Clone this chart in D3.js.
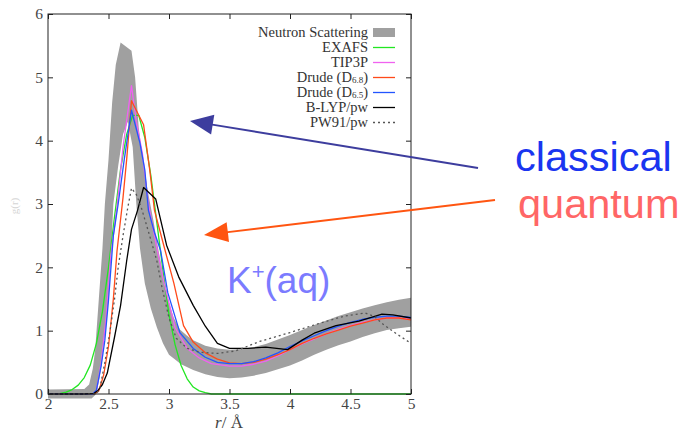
<!DOCTYPE html>
<html>
<head>
<meta charset="utf-8">
<script src="https://cdn.jsdelivr.net/npm/d3@7"></script>
<style>
  body { margin: 0; background: #fff; }
  svg { display: block; }
</style>
</head>
<body>
<svg id="chart" width="685" height="431"></svg>
<script>
// ---- data ----
const xTicks = [2, 2.5, 3, 3.5, 4, 4.5, 5];
const yTicks = [0, 1, 2, 3, 4, 5, 6];

// neutron scattering band (upper / lower edge)
const neutronUpper = [[2.0,0.07],[2.3,0.08],[2.34,0.15],[2.37,0.4],[2.39,0.7],[2.42,1.5],[2.45,2.3],[2.47,3.0],[2.5,3.7],[2.53,4.6],[2.56,5.2],[2.6,5.55],[2.69,5.42],[2.72,5.0],[2.75,4.2],[2.79,3.6],[2.83,3.15],[2.87,2.75],[2.91,2.3],[2.95,1.9],[2.99,1.5],[3.04,1.2],[3.09,1.02],[3.15,0.92],[3.2,0.85],[3.3,0.76],[3.4,0.72],[3.5,0.70],[3.6,0.71],[3.7,0.74],[3.8,0.79],[3.9,0.86],[4.0,0.93],[4.1,1.01],[4.2,1.09],[4.3,1.16],[4.4,1.23],[4.5,1.29],[4.6,1.35],[4.7,1.40],[4.8,1.45],[4.9,1.49],[5.0,1.52]];
const neutronLower = [[2.0,-0.07],[2.36,-0.07],[2.4,0.0],[2.43,0.3],[2.45,0.69],[2.48,1.1],[2.5,1.48],[2.52,2.2],[2.54,3.0],[2.58,3.6],[2.62,4.1],[2.66,4.3],[2.7,3.9],[2.73,3.0],[2.76,2.3],[2.8,1.75],[2.85,1.35],[2.9,1.05],[2.95,0.8],[3.0,0.62],[3.1,0.47],[3.2,0.38],[3.3,0.31],[3.4,0.27],[3.5,0.25],[3.6,0.26],[3.7,0.29],[3.8,0.33],[3.9,0.39],[4.0,0.45],[4.1,0.53],[4.2,0.62],[4.3,0.70],[4.4,0.77],[4.5,0.83],[4.6,0.90],[4.7,0.96],[4.8,1.01],[4.9,1.04],[5.0,1.06]];

const exafs = [[2.0,0],[2.1,0.005],[2.15,0.03],[2.2,0.07],[2.25,0.14],[2.3,0.26],[2.35,0.46],[2.4,0.8],[2.45,1.3],[2.5,2.0],[2.55,2.8],[2.6,3.55],[2.65,4.1],[2.7,4.4],[2.75,4.4],[2.8,4.05],[2.85,3.45],[2.9,2.7],[2.95,1.95],[3.0,1.25],[3.05,0.78],[3.1,0.45],[3.15,0.24],[3.2,0.11],[3.25,0.05],[3.3,0.02],[3.35,0],[5.0,0]];

const tip3p = [[2.0,0],[2.37,0],[2.4,0.05],[2.44,0.5],[2.48,1.2],[2.52,2.2],[2.57,2.95],[2.62,3.9],[2.69,4.87],[2.73,4.3],[2.78,3.8],[2.83,3.0],[2.9,2.3],[2.96,1.75],[3.05,1.05],[3.15,0.72],[3.25,0.57],[3.35,0.48],[3.5,0.44],[3.6,0.44],[3.7,0.47],[3.8,0.52],[3.9,0.6],[4.0,0.7],[4.1,0.79],[4.2,0.87],[4.3,0.95],[4.4,1.02],[4.5,1.08],[4.6,1.13],[4.7,1.17],[4.8,1.2],[4.9,1.2],[5.0,1.18]];

const drude68 = [[2.0,0],[2.38,0],[2.42,0.05],[2.46,0.3],[2.5,0.75],[2.54,1.5],[2.57,2.25],[2.62,3.1],[2.65,3.7],[2.69,4.63],[2.79,4.25],[2.84,3.55],[2.88,2.9],[2.97,2.25],[3.04,1.75],[3.12,1.08],[3.2,0.82],[3.3,0.65],[3.4,0.55],[3.5,0.49],[3.6,0.48],[3.7,0.5],[3.8,0.55],[3.9,0.62],[4.0,0.7],[4.1,0.8],[4.2,0.88],[4.3,0.95],[4.4,1.01],[4.5,1.07],[4.6,1.12],[4.7,1.17],[4.8,1.2],[4.9,1.2],[5.0,1.17]];

const drude65 = [[2.0,0],[2.37,0],[2.4,0.06],[2.44,0.45],[2.47,0.85],[2.5,1.48],[2.54,2.5],[2.58,3.0],[2.63,3.7],[2.69,4.48],[2.76,3.96],[2.8,3.54],[2.83,2.9],[2.88,2.55],[2.93,2.27],[2.99,1.6],[3.09,0.97],[3.2,0.72],[3.3,0.58],[3.4,0.5],[3.5,0.48],[3.6,0.48],[3.7,0.51],[3.8,0.57],[3.9,0.65],[4.0,0.75],[4.1,0.84],[4.2,0.92],[4.3,1.0],[4.4,1.07],[4.5,1.13],[4.6,1.18],[4.7,1.21],[4.8,1.23],[4.9,1.23],[5.0,1.21]];

const blyp = [[2.0,0],[2.3,0],[2.38,0.01],[2.41,0.05],[2.45,0.15],[2.49,0.33],[2.55,0.9],[2.6,1.4],[2.65,2.1],[2.69,2.6],[2.74,2.9],[2.79,3.26],[2.89,3.08],[2.98,2.35],[3.08,1.85],[3.2,1.4],[3.3,1.07],[3.4,0.8],[3.5,0.72],[3.65,0.72],[3.8,0.74],[3.98,0.7],[4.1,0.85],[4.2,0.96],[4.38,1.08],[4.57,1.15],[4.76,1.26],[4.85,1.25],[5.0,1.2]];

const pw91 = [[2.0,0],[2.4,0],[2.43,0.1],[2.47,0.5],[2.51,0.96],[2.55,1.5],[2.58,2.0],[2.62,2.5],[2.66,2.95],[2.69,3.25],[2.73,3.15],[2.77,2.95],[2.84,2.5],[2.9,2.1],[2.94,1.7],[3.0,1.2],[3.06,0.88],[3.15,0.72],[3.25,0.66],[3.4,0.64],[3.55,0.68],[3.75,0.83],[4.0,0.97],[4.25,1.12],[4.45,1.23],[4.62,1.28],[4.7,1.22],[4.77,1.1],[4.88,0.95],[5.0,0.8]];

const legendNames = ["Neutron Scattering", "EXAFS", "TIP3P", "Drude (D6.8)", "Drude (D6.5)", "B-LYP/pw", "PW91/pw"];

// ---- layout ----
const margin = { top: 14, left: 48, right: 274, bottom: 37 };
const width = 685 - margin.left - margin.right,
      height = 431 - margin.top - margin.bottom;

const x = d3.scaleLinear().domain([2, 5]).range([0, width]);
const y = d3.scaleLinear().domain([0, 6]).range([height, 0]);

const svg = d3.select("#chart");
const g = svg.append("g").attr("transform", `translate(${margin.left},${margin.top})`);

const serif = "'Liberation Serif', 'DejaVu Serif', serif";
const sans = "'Liberation Sans', Arial, sans-serif";

const line = d3.line().x(d => x(d[0])).y(d => y(d[1]));

// band
g.append("path")
  .attr("d", line(neutronUpper.concat(neutronLower.slice().reverse())) + "Z")
  .attr("fill", "#a0a0a0");

const series = [
  { data: exafs, color: "#22e622", dash: null },
  { data: tip3p, color: "#f062f0", dash: null },
  { data: drude68, color: "#ff4a1a", dash: null },
  { data: drude65, color: "#2255ff", dash: null },
  { data: blyp, color: "#000000", dash: null },
  { data: pw91, color: "#555555", dash: "2,3" }
];

series.forEach(s => {
  g.append("path")
    .attr("d", line(s.data))
    .attr("fill", "none")
    .attr("stroke", s.color)
    .attr("stroke-width", 1.3)
    .attr("stroke-dasharray", s.dash)
    .attr("stroke-linejoin", "round");
});

// axes (inward ticks)
g.append("g")
  .attr("transform", `translate(0,${height})`)
  .call(d3.axisBottom(x).tickValues(xTicks).tickSize(-5).tickPadding(4).tickFormat(d3.format("")));
g.append("g")
  .call(d3.axisLeft(y).tickValues(yTicks).tickSize(-5).tickPadding(5).tickFormat(d3.format("d")));
g.append("g").attr("transform", `translate(${width},0)`)
  .call(d3.axisRight(y).tickValues(yTicks).tickSize(-5).tickFormat(""));
g.append("g")
  .call(d3.axisTop(x).tickValues(xTicks).tickSize(-5).tickFormat(""));

g.selectAll(".domain").remove();
g.selectAll(".tick line").attr("stroke", "#222");
g.selectAll(".tick text")
  .attr("font-family", serif)
  .attr("font-size", 15.5)
  .attr("fill", "#444");

g.append("rect")
  .attr("width", width).attr("height", height)
  .attr("fill", "none").attr("stroke", "#222").attr("stroke-width", 1);

// axis titles
const xl = svg.append("text")
  .attr("x", 229).attr("y", 428)
  .attr("text-anchor", "middle")
  .attr("font-family", serif).attr("font-size", 17).attr("fill", "#444");
xl.append("tspan").attr("font-style", "italic").text("r");
xl.append("tspan").text("/ Å");

svg.append("text")
  .attr("transform", "translate(18,206) rotate(-90)")
  .attr("text-anchor", "middle")
  .attr("font-family", serif).attr("font-size", 11).attr("fill", "#d4d4d4")
  .text("g(r)");

// legend
const legend = g.append("g").attr("transform", `translate(${x(5) - 38},0)`);
legendNames.forEach((name, i) => {
  const ry = 18.5 + i * 15;
  const t = legend.append("text")
    .attr("x", -5).attr("y", ry + 4.5)
    .attr("text-anchor", "end")
    .attr("font-family", serif).attr("font-size", 14.5).attr("fill", "#333");
  const m = name.match(/^(Drude \(D)(6\.\d)(\))$/);
  if (m) {
    t.append("tspan").text(m[1]);
    t.append("tspan").attr("font-size", 9).attr("dy", 1).text(m[2]);
    t.append("tspan").attr("dy", -1).text(m[3]);
  } else {
    t.text(name);
  }
  if (i === 0) {
    legend.append("rect").attr("x", 0).attr("y", ry - 4.5).attr("width", 22).attr("height", 9).attr("fill", "#a0a0a0");
  } else {
    const s = series[i - 1];
    legend.append("line")
      .attr("x1", 0).attr("x2", 22).attr("y1", ry).attr("y2", ry)
      .attr("stroke", s.color).attr("stroke-width", 1.3)
      .attr("stroke-dasharray", s.dash);
  }
});

// annotation arrows
function arrow(x1, y1, x2, y2, color, headLen, headHalf, sw) {
  const dx = x2 - x1, dy = y2 - y1, len = Math.hypot(dx, dy);
  const ux = dx / len, uy = dy / len;
  const bx = x2 - ux * headLen, by = y2 - uy * headLen;
  svg.append("line")
    .attr("x1", x1).attr("y1", y1).attr("x2", bx + ux * 2).attr("y2", by + uy * 2)
    .attr("stroke", color).attr("stroke-width", sw);
  svg.append("polygon")
    .attr("points", [[x2, y2], [bx - uy * headHalf, by + ux * headHalf], [bx + uy * headHalf, by - ux * headHalf]].map(p => p.join(",")).join(" "))
    .attr("fill", color);
}
arrow(478, 168, 190, 121, "#3d3d9e", 23, 10, 2);
arrow(495, 200, 204, 235, "#ff5511", 24, 10, 2);

// annotation texts
svg.append("text").attr("x", 515).attr("y", 171)
  .attr("font-family", sans).attr("font-size", 41.5).attr("fill", "#1a35f0")
  .text("classical");
svg.append("text").attr("x", 518).attr("y", 218)
  .attr("font-family", sans).attr("font-size", 41.5).attr("fill", "#ff6666")
  .text("quantum");
const k = svg.append("text").attr("x", 227).attr("y", 293)
  .attr("font-family", sans).attr("font-size", 37).attr("fill", "#7b7bff");
k.append("tspan").text("K");
k.append("tspan").attr("font-size", 22).attr("dy", -14).text("+");
k.append("tspan").attr("dy", 14).text("(aq)");
</script>
</body>
</html>
